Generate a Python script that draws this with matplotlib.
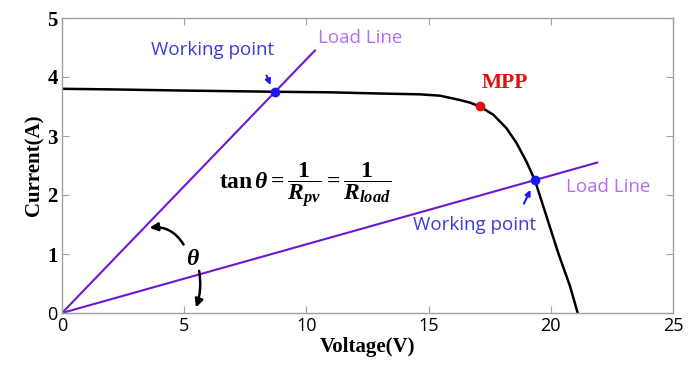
import matplotlib
matplotlib.use("Agg")
import matplotlib.pyplot as plt
import numpy as np

plt.rcParams['mathtext.fontset'] = 'custom'
plt.rcParams['mathtext.rm'] = 'Liberation Serif:bold'
plt.rcParams['mathtext.bf'] = 'Liberation Serif:bold'
plt.rcParams['mathtext.it'] = 'Liberation Serif:italic:bold'

# I-V curve
iv_voltage = [0, 2, 5, 8.7, 11, 13.0, 14.65, 15.47, 16.28, 16.7, 17.1, 17.65, 18.19,
              18.60, 19.01, 19.35, 19.83, 20.31, 20.79, 21.1]
iv_current = [3.80, 3.79, 3.77, 3.75, 3.74, 3.72, 3.706, 3.683, 3.61, 3.565, 3.50, 3.36, 3.13,
              2.88, 2.56, 2.25, 1.63, 1.01, 0.45, 0.0]

# load lines (end points)
load1_v = [0, 10.35]
load1_i = [0, 4.45]
load2_v = [0, 21.9]
load2_i = [0, 2.55]

mpp = (17.1, 3.51)
wp1 = (8.73, 3.75)
wp2 = (19.35, 2.25)

xticks = [0, 5, 10, 15, 20, 25]
yticks = [0, 1, 2, 3, 4, 5]

sans = 'Open Sans'
serif = 'Liberation Serif'

fig = plt.figure(figsize=(6.96, 3.71), dpi=100)
ax = fig.add_axes([62/696, 58/371, 611/696, 295/371])

purple = '#6c17d6'
ax.plot(load1_v, load1_i, color=purple, lw=1.5)
ax.plot(load2_v, load2_i, color=purple, lw=1.5)
ax.plot(iv_voltage, iv_current, color='black', lw=1.8)
ax.plot(*wp1, 'o', color='#1a1aee', ms=6, zorder=5)
ax.plot(*wp2, 'o', color='#1a1aee', ms=6, zorder=5)
ax.plot(*mpp, 'o', color='#e01010', ms=6, zorder=5)

ax.set_xlim(0, 25)
ax.set_ylim(0, 5)
ax.set_xticks(xticks)
ax.set_yticks(yticks)
ax.set_xticklabels([str(t) for t in xticks], fontfamily=sans, fontsize=13)
ylabs = ax.set_yticklabels([str(t) for t in yticks])
for i, lab in enumerate(ylabs):
    if i == 0:
        lab.set_fontfamily(sans); lab.set_fontsize(13)
    else:
        lab.set_fontfamily(serif); lab.set_fontweight('bold'); lab.set_fontsize(15)

ax.tick_params(direction='in', top=True, right=True, length=5, color='#a0a0a0', pad=3)
for s in ax.spines.values():
    s.set_color('#a0a0a0')
    s.set_linewidth(1.0)

ax.set_xlabel('Voltage(V)', fontfamily=serif, fontweight='bold', fontsize=15, labelpad=1)
ax.set_ylabel('Current(A)', fontfamily=serif, fontweight='bold', fontsize=15, labelpad=2)

blue = '#3a3ad6'
lav = '#b06ef2'
ax.text(6.18, 4.46, 'Working point', color=blue, fontfamily=sans, fontsize=13.5, ha='center', va='center')
ax.text(10.47, 4.66, 'Load Line', color=lav, fontfamily=sans, fontsize=13.5, ha='left', va='center')
ax.text(20.62, 2.14, 'Load Line', color=lav, fontfamily=sans, fontsize=13.5, ha='left', va='center')
ax.text(16.9, 1.49, 'Working point', color=blue, fontfamily=sans, fontsize=13.5, ha='center', va='center')
ax.text(18.13, 3.90, 'MPP', color='#e01010', fontfamily=serif, fontweight='bold', fontsize=15.5, ha='center', va='center')

ax.annotate('', xy=(8.57, 3.82), xytext=(8.33, 4.07),
            arrowprops=dict(arrowstyle='-|>', color='#1a1aee', lw=1.5, mutation_scale=8))
ax.annotate('', xy=(19.22, 2.13), xytext=(18.85, 1.81),
            arrowprops=dict(arrowstyle='-|>', color='#1a1aee', lw=1.5, mutation_scale=8))

ax.text(5.36, 0.93, r'$\theta$', fontsize=17, ha='center', va='center')
ax.annotate('', xy=(3.47, 1.44), xytext=(5.03, 1.12),
            arrowprops=dict(arrowstyle='-|>', color='black', lw=1.8, mutation_scale=12,
                            connectionstyle='arc3,rad=0.35'))
ax.annotate('', xy=(5.44, 0.05), xytext=(5.59, 0.76),
            arrowprops=dict(arrowstyle='-|>', color='black', lw=1.8, mutation_scale=12,
                            connectionstyle='arc3,rad=-0.15'))

ax.text(9.94, 2.17, r'$\mathrm{tan}\,\theta = \dfrac{1}{R_{pv}} = \dfrac{1}{R_{load}}$',
        fontsize=17, ha='center', va='center')

fig.savefig('out.png', dpi=100)
